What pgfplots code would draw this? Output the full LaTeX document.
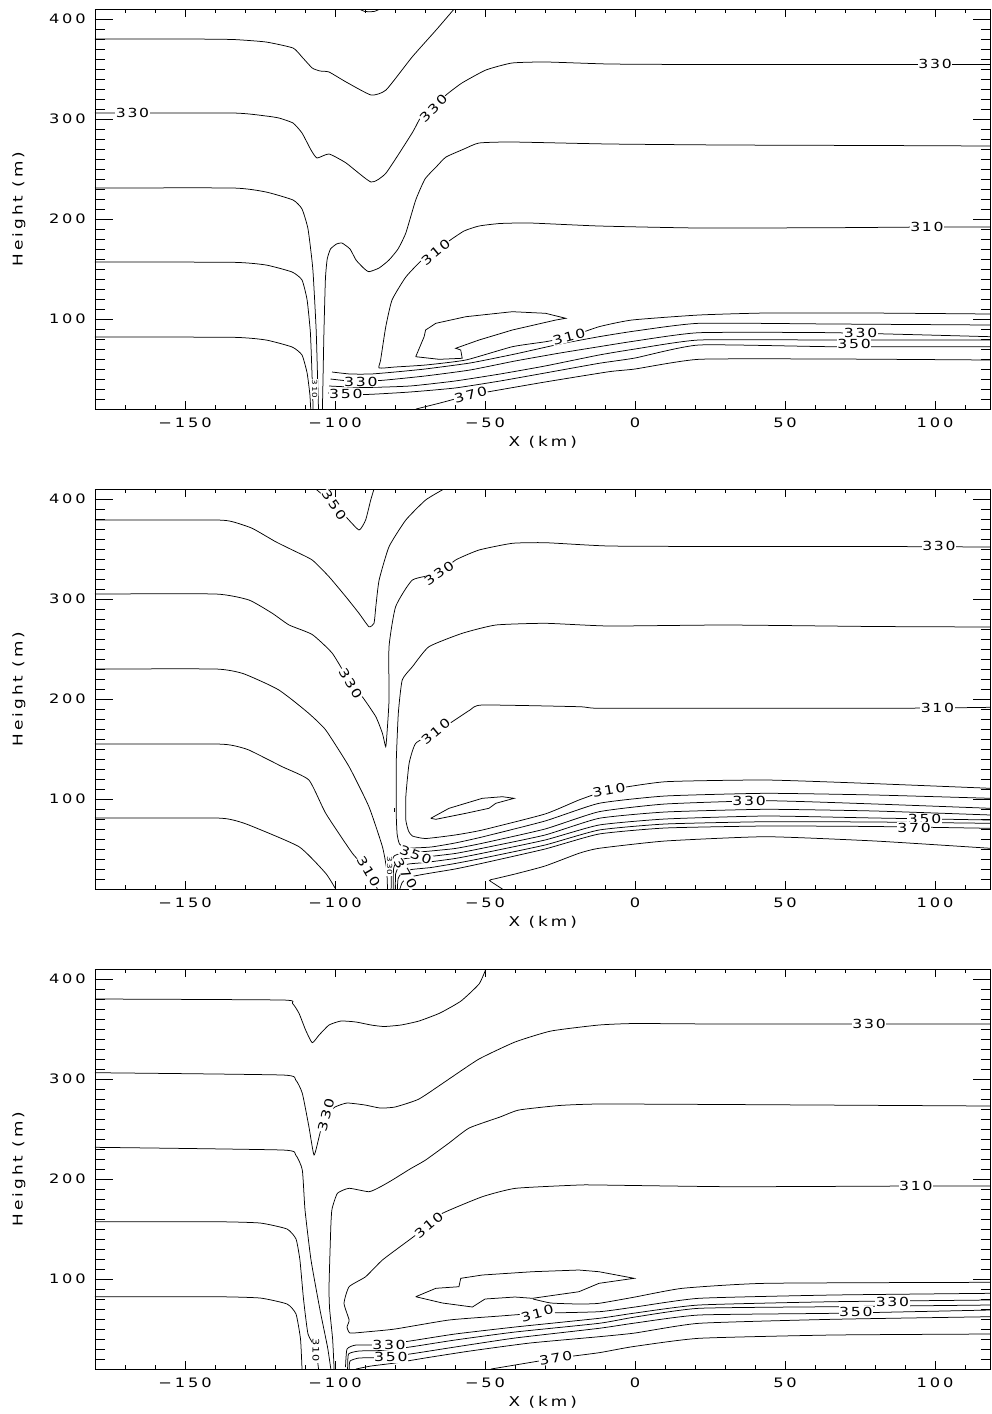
\documentclass[border=0pt]{standalone}
\usepackage{fontspec}
\setmainfont{DejaVu Sans}
\newfontfamily\idlfont[FakeStretch=1.25,LetterSpace=22]{DejaVu Sans}
\newfontfamily\idlcfont[FakeStretch=1.25,LetterSpace=14]{DejaVu Sans}
\usepackage{pgfplots}
\pgfplotsset{compat=1.18}
\newcommand{\tickfont}{\fontsize{13}{13}\selectfont\idlfont}
\newcommand{\labfont}{\fontsize{13.5}{13.5}\selectfont\idlfont}
\newcommand{\cfont}{\fontsize{12.5}{12.5}\selectfont\idlcfont}
\tikzset{cl/.style={fill=white, inner sep=0.5pt, font=\cfont}}
\pgfplotsset{idl/.style={
  scale only axis, width=895.5pt, height=400pt,
  xmin=-180, xmax=118.5, ymin=10, ymax=410,
  xtick={-150,-100,-50,0,50,100}, xticklabels={−150,−100,−50,0,50,100},
  minor xtick={-180,-170,...,110},
  ytick={100,200,300,400}, yticklabels={100,200,300,400},
  minor ytick={10,20,...,410},
  tick align=inside,
  xtick style={black, line width=0.7pt, /pgfplots/major tick length=8pt, /pgfplots/minor tick length=4pt},
  ytick style={black, line width=0.7pt, /pgfplots/major tick length=18pt, /pgfplots/minor tick length=10pt},
  axis line style={line width=0.9pt},
  tick label style={font=\tickfont},
  xticklabel style={inner sep=0pt, yshift=-9pt},
  yticklabel style={inner sep=0pt, xshift=-9pt},
  xlabel={X (km)}, ylabel={Height (m)},
  every axis x label/.style={at={(axis description cs:0.5,-0.0825)}, anchor=center, font=\labfont},
  every axis y label/.style={at={(axis description cs:-0.085,0.5)}, rotate=90, anchor=center, font=\labfont},
  cycle list={{black, solid, no markers}},
  every axis plot/.append style={black, line width=0.75pt, smooth, tension=0.3, no markers},
}}
\begin{document}
\begin{tikzpicture}
\path[use as bounding box] (0,0) rectangle (991pt,-1414pt);
% ================= PANEL 1 =================
\begin{axis}[idl, at={(95pt,-409pt)}, anchor=south west]
\addplot coordinates {(-180,380) (-150,380) (-134,379.5) (-123,377) (-114,371) (-111,362) (-107.6,351) (-105,348) (-102,347) (-96.3,337) (-88,324) (-83,329) (-74.3,362) (-66.3,389) (-60.3,410)};
\addplot coordinates {(-92,410) (-90,407.5) (-87,407.5) (-85,410)};
\addplot coordinates {(-180,306) (-134,306) (-123,303) (-118.7,301) (-114,296) (-111,286) (-108,269) (-106,261) (-102,265) (-96.3,256) (-88,237) (-83,246) (-74.3,286) (-71,304) (-67.3,311) (-63,324) (-57.7,336) (-49.7,349) (-41,356) (-29.7,357) (-8.7,355) (20,354.5) (60,354.5) (118.5,354.5)};
\addplot coordinates {(-180,231) (-134,231) (-123,227) (-114,219) (-111,210) (-109,190) (-107.4,150) (-106.3,90) (-105.8,40) (-105.5,10)};
\addplot coordinates {(-180,157) (-134,156.7) (-123,154) (-114.3,147) (-111,139) (-109.3,119) (-108.2,86) (-107.6,39) (-107.3,10)};
\addplot coordinates {(-180,82) (-134,81.7) (-123,79) (-114.3,72) (-111,64) (-109.3,46) (-108.4,25) (-108.1,10)};
\addplot coordinates {(-104.2,10) (-104,40) (-103.7,86) (-103.2,140) (-102.6,160) (-101.5,170) (-99.5,175) (-97.7,176) (-95,170) (-93,159) (-90.5,151) (-88.7,147.3) (-85.3,151) (-82,159) (-79,170) (-76.4,186) (-73.1,219) (-70,240) (-66,253) (-63,262) (-57,270) (-52,276) (-41,277) (-8.7,275) (30,274) (80,273.5) (118.5,273)};
\addplot coordinates {(118.5,192) (97,192) (65.7,191.3) (21.3,191) (-12,193) (-35,196) (-45,195.5) (-52,193) (-57,188) (-62,178) (-66.4,167) (-71,159) (-76.4,142) (-81,119) (-83.1,92) (-84.8,59) (-85.3,51) (-80,52) (-69.8,54) (-56.4,59) (-40.9,72.3) (-29.8,77.3) (-22,82) (-12,92.3) (-1,99) (21.3,104) (43.7,106) (77,106) (118.5,105)};
\addplot[sharp plot] coordinates {(-73.1,62.3) (-70.3,82.3) (-69.8,89) (-66.4,95.7) (-56.4,102.3) (-40.9,107.3) (-29.8,105.7) (-23.1,100.7) (-26.4,99) (-40.9,89) (-52,79) (-59.8,70.7) (-58.1,69) (-57.6,60.7) (-65.3,59.7) (-73.1,62.3)};
\addplot coordinates {(-101,47) (-95,45) (-88,45) (-80,47) (-70,50) (-55,56) (-40,65) (-25,75) (-12,82.3) (0,88) (21.3,95.7) (65.7,95) (118.5,94)};
\addplot coordinates {(-101.5,40) (-95,38) (-85,38.5) (-70,43) (-55,49) (-40,58) (-25,66) (-12,72.3) (0,78) (21.3,86.3) (65.7,86.3) (118.5,82.3)};
\addplot coordinates {(-102,33) (-90,31.5) (-75,33) (-60,38) (-45,45) (-30,53) (-12,64) (0,70) (21.3,79) (65.7,79) (118.5,79)};
\addplot coordinates {(-102.3,26) (-90,24.5) (-75,27) (-60,31) (-45,38) (-30,46) (-12,55.7) (0,61) (21.3,74) (65.7,72.3) (118.5,72.3)};
\addplot coordinates {(-73,10) (-65,16) (-60,20) (-54.8,24) (-48.7,27.3) (-30,37) (-8.7,47.3) (0,50) (21.3,59.7) (65.7,60) (118.5,59)};
\node[cl] at (axis cs:-167.5,306) {330};
\node[cl, rotate=45] at (axis cs:-67.2,310.7) {330};
\node[cl] at (axis cs:100,355) {330};
\node[cl, rotate=40] at (axis cs:-66.4,167) {310};
\node[cl] at (axis cs:97.3,192) {310};
\node[cl, rotate=15] at (axis cs:-22,82.3) {310};
\node[cl] at (axis cs:75.2,86.3) {330};
\node[cl] at (axis cs:73,75) {350};
\node[cl] at (axis cs:-91.4,37.3) {330};
\node[cl] at (axis cs:-96.4,25) {350};
\node[cl, rotate=15] at (axis cs:-54.8,24) {370};
\node[cl, rotate=-90, font=\fontsize{7}{7}\selectfont\idlcfont] at (axis cs:-106.8,30) {310};
\end{axis}
% ================= PANEL 2 =================
\begin{axis}[idl, at={(95pt,-889pt)}, anchor=south west]
\addplot coordinates {(-180,379) (-139.8,379) (-134.2,377.3) (-127.6,370.7) (-119.8,357.3) (-114.2,349) (-107.6,339) (-102,322.3) (-96.4,302.3) (-92,285.7) (-88.7,272.3) (-87,275.7) (-86.4,292.3) (-85.3,319) (-82,352.3) (-76.4,379) (-69.8,399) (-63.7,410)};
\addplot coordinates {(-106.4,410) (-100.3,394) (-96.4,382.3) (-92,369) (-89.8,379) (-88.1,399) (-87,410)};
\addplot coordinates {(-180,305) (-139.8,305) (-128.7,299) (-120.9,285.7) (-115.3,274) (-107.6,264.5) (-100.9,245.7) (-94.8,215.7) (-90.9,202.3) (-86.4,182.3) (-84.2,165.7) (-83.1,152.3) (-82.6,169) (-82,199) (-82,252.3) (-79.8,292.3) (-74.2,319) (-65.3,325.7) (-59.8,339) (-52,349) (-40.9,355.7) (-29.8,356.3) (-8.7,353) (30,352.5) (80,352.5) (118.5,352)};
\addplot coordinates {(-180,230) (-139.8,230) (-130.9,225.7) (-123.1,215.7) (-118.7,209) (-114.2,199) (-108.5,185) (-103.1,169) (-95.3,132.3) (-88.7,92.3) (-84.2,52.3) (-82.8,30) (-82.5,10)};
\addplot coordinates {(-180,155) (-140,155) (-134,153.5) (-128.7,149) (-117.6,132.3) (-108.7,119) (-103.1,85.7) (-94.2,45.7) (-88.7,27.3) (-85.9,10)};
\addplot coordinates {(-180,81) (-140,81) (-134,79) (-128.7,74) (-112,52.3) (-103.1,25.7) (-99.8,10)};
\addplot coordinates {(118.5,272) (80,272.5) (30,274) (-8.7,273) (-29.8,275.7) (-46.4,274) (-57.6,265.7) (-68.7,252.3) (-74.2,232.3) (-77.6,219) (-78.9,185.7) (-79.6,135.7) (-79.6,85.7) (-79.3,65) (-78.5,55) (-76,51) (-68,52) (-60,56) (-51,62) (-30,78) (-12,95.7) (10,103) (43.6,105.7) (80,104) (118.5,100.7)};
\addplot coordinates {(118.5,191.7) (100,191) (76.9,190.7) (32.4,190.7) (-12,190.7) (-18.7,192.3) (-50.9,194) (-55,189) (-60.9,177.3) (-66.4,167.3) (-73.1,155.7) (-75.3,135.7) (-76.4,102.3) (-76.4,79) (-75.5,68) (-74.2,63) (-69.8,60.5) (-60,64) (-50.9,69) (-30,85) (-18.7,99) (-8.7,109) (10.2,117.3) (43.6,119) (76.9,115.7) (118.5,110.7)};
\addplot coordinates {(-81.3,10) (-81.2,35) (-80.3,43) (-77.5,46) (-70,47.5) (-60,50.5) (-51,55.7) (-30,70) (-12,87.3) (10,95) (43.6,98.3) (80,95) (118.5,90.7)};
\addplot coordinates {(-80.6,10) (-80.5,30) (-79.5,37) (-76.5,40.5) (-70,42) (-60,45.5) (-51,50.7) (-30,64) (-12,80.7) (10,87) (43.6,89.7) (80,88) (118.5,84)};
\addplot coordinates {(-79.9,10) (-79.8,25) (-78.8,31.5) (-75.5,35) (-70,36.5) (-60,40.5) (-51,45.7) (-30,59) (-12,74) (10,80) (43.6,83) (80,81) (118.5,79)};
\addplot coordinates {(-79.2,10) (-79,20) (-77.8,26) (-74.5,29.5) (-68,31.5) (-60,35.5) (-51,40.7) (-30,54) (-12,69) (10,75) (43.6,77.3) (80,77) (118.5,75.7)};
\addplot coordinates {(-78.4,10) (-77.5,17) (-75,22) (-70,25) (-60,30) (-51,35.7) (-30,50) (-12,65) (10,71) (43.6,73) (80,72.5) (118.5,70.7)};
\addplot coordinates {(-44.2,10) (-48.5,18.5) (-47,20) (-40,25) (-30,33) (-18.7,45.7) (-12,50.7) (10,58) (43.6,62.3) (80,58) (118.5,50.7)};
\addplot[sharp plot] coordinates {(-68.1,80.7) (-62,90.7) (-50.9,100.7) (-44.2,102.3) (-40.3,100.7) (-46.4,95.7) (-48.7,90.7) (-56.4,85.7) (-66.4,79.7) (-68.1,80.7)};
\addplot[sharp plot] coordinates {(-80.3,87.5) (-80.3,91)};
\node[cl, rotate=-55] at (axis cs:-100.3,394) {350};
\node[cl, rotate=-60] at (axis cs:-94.8,215.7) {330};
\node[cl, rotate=35] at (axis cs:-65.3,325.7) {330};
\node[cl] at (axis cs:101.3,353) {330};
\node[cl, rotate=40] at (axis cs:-66.4,167.3) {310};
\node[cl] at (axis cs:100.8,190.7) {310};
\node[cl, rotate=10] at (axis cs:-8.7,109) {310};
\node[cl] at (axis cs:38,98.3) {330};
\node[cl] at (axis cs:96.5,80) {350};
\node[cl] at (axis cs:93,71.5) {370};
\node[cl, rotate=-60] at (axis cs:-88.7,27.3) {310};
\node[cl, rotate=-20] at (axis cs:-73.1,44) {350};
\node[cl, rotate=-60] at (axis cs:-76.4,25.7) {370};
\node[cl, rotate=-90, font=\fontsize{7}{7}\selectfont\idlcfont] at (axis cs:-81.8,33) {330};
\end{axis}
% ================= PANEL 3 =================
\begin{axis}[idl, at={(95pt,-1369pt)}, anchor=south west]
\addplot coordinates {(-180,380) (-117.6,379) (-114.2,375.7) (-112,365.7) (-109.8,349) (-107.6,336.3) (-105.3,344) (-102,354) (-98,358) (-93,357) (-88,354) (-83.7,352.5) (-78,354) (-72,358) (-65,366) (-58,378) (-52,395) (-49.7,410)};
\addplot coordinates {(-180,306.3) (-117.6,304) (-113.1,299) (-110.9,285.7) (-108.7,252.3) (-107,224) (-105.3,242.3) (-104.2,255.7) (-103,264) (-100,272) (-96,276) (-90,274) (-85,271) (-80,272) (-72,280) (-62,300) (-52,320) (-40,337) (-28,348) (-12,354) (0,355.5) (30,355) (118.5,355)};
\addplot coordinates {(-180,231.7) (-117.6,229) (-113.1,224) (-110.9,209) (-110,169) (-108,119) (-105,69) (-102.5,32) (-101.4,10)};
\addplot coordinates {(-180,157.3) (-140,157.3) (-125,156) (-116,150) (-113,140) (-111.7,119) (-110.5,80) (-109,45) (-106.4,30) (-105.5,10)};
\addplot coordinates {(-180,82.3) (-140,82.3) (-125,81) (-116,75) (-113,65) (-111.5,40) (-111,10)};
\addplot coordinates {(118.5,273) (30,274.5) (-12,275) (-25.3,273.5) (-38.7,269) (-45,262) (-55.3,251) (-62,236) (-69.8,219) (-75,210) (-80.9,199) (-85,192) (-88.7,187.3) (-95.3,190.7) (-99.2,185.7) (-101,170) (-101.4,152.3) (-102,92.3) (-101.8,70) (-100.8,40) (-100.3,10)};
\addplot coordinates {(118.5,193) (93.6,193) (32.4,192.3) (-12,194) (-18.7,194) (-39.8,190.7) (-50.9,182.3) (-64.2,165.7) (-68.7,154) (-75.3,139) (-84.2,119) (-89.8,102.3) (-95.3,92.3) (-97,75.7) (-95.3,59) (-96,52) (-95,46) (-90,47) (-80,50) (-62,59) (-45,63) (-32.6,65.7) (-12,67.3) (0,72) (21.3,80.7) (65.8,84) (118.5,85.7)};
\addplot[sharp plot] coordinates {(-73.1,82.3) (-66.4,90.7) (-58.7,92.3) (-58.1,100.7) (-50.9,104) (-34.2,107.3) (-18.7,109) (-12,107.3) (-0.3,100.7) (-12,95.7) (-18.7,87.3) (-34.2,80.7) (-40,82) (-50,80) (-54.2,72) (-64.2,76) (-73.1,82.3)};
\addplot coordinates {(-34,80) (-28,76) (-18.7,75) (-12,75.7) (0,82) (15.8,90.7) (43.6,95.7) (118.5,96.7)};
\addplot coordinates {(-96.5,12) (-96,30) (-93,34) (-85,34) (-75,38) (-60,45) (-40,52) (-12,60.7) (0,66) (21.3,74) (65.8,77.3) (118.5,79)};
\addplot coordinates {(-95.8,10) (-95.5,25) (-92,28) (-85,28.5) (-75,32) (-60,39) (-40,47) (-12,55.7) (0,62) (21.3,70.7) (65.8,72.3) (118.5,74)};
\addplot coordinates {(-95.3,10) (-95,18) (-92,21) (-85,21.5) (-75,25) (-60,32) (-40,41) (-12,50.7) (0,56) (21.3,64) (65.8,65.7) (118.5,69)};
\addplot coordinates {(-93,10) (-88,13) (-80,16) (-70,21) (-55,28) (-35,36) (-12,42.3) (0,46) (21.3,55.7) (65.8,59.7) (118.5,62.3)};
\addplot coordinates {(-48,10) (-40,14) (-26.4,20.7) (-12,26.3) (-0.9,32.3) (21.3,40.7) (65.8,44) (118.5,45)};
\node[cl, rotate=75] at (axis cs:-103,264) {330};
\node[cl] at (axis cs:78,355) {330};
\node[cl, rotate=40] at (axis cs:-68.7,154) {310};
\node[cl] at (axis cs:93.6,193) {310};
\node[cl, rotate=15] at (axis cs:-32.6,65.7) {310};
\node[cl] at (axis cs:85.8,77.3) {330};
\node[cl] at (axis cs:73.6,67.3) {350};
\node[cl] at (axis cs:-82,34) {330};
\node[cl] at (axis cs:-81.4,21.7) {350};
\node[cl, rotate=10] at (axis cs:-26.4,20.7) {370};
\node[cl, rotate=-90, font=\fontsize{9}{9}\selectfont\idlcfont] at (axis cs:-106.4,29) {310};
\end{axis}
\end{tikzpicture}
\end{document}
